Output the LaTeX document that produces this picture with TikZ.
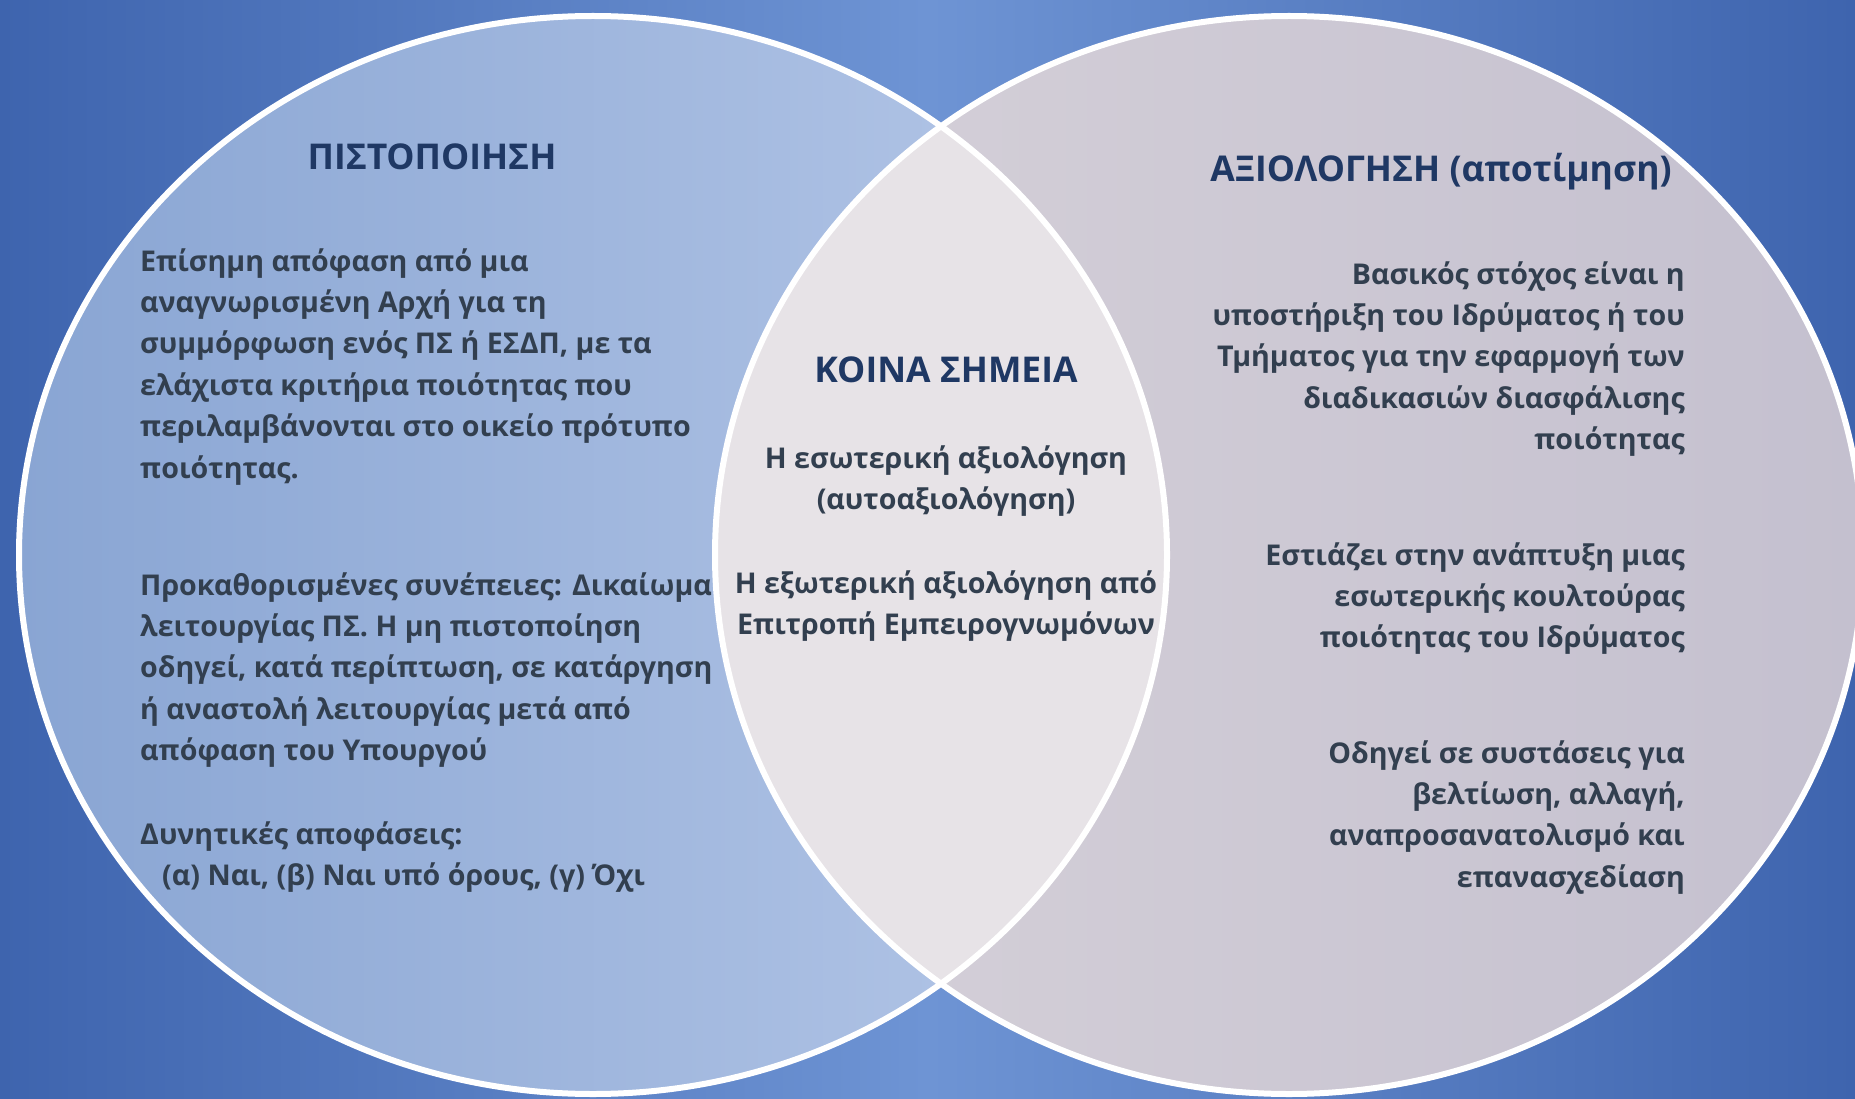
\documentclass[tikz,border=0pt]{standalone}
\usepackage{fontspec}
\setmainfont{Open Sans}
\definecolor{bgdark}{HTML}{3E64AE}
\definecolor{bglight}{HTML}{6E94D4}
\definecolor{leftA}{HTML}{89A5D3}
\definecolor{leftB}{HTML}{B6C8E8}
\definecolor{rightA}{HTML}{D6D1D9}
\definecolor{rightB}{HTML}{C4C0CF}
\definecolor{common}{HTML}{E7E3E7}
\definecolor{headtext}{HTML}{1F3864}
\definecolor{bodytext}{HTML}{323F4F}

\def\rx{574}
\def\ry{539}

\begin{document}
\begin{tikzpicture}[x=1pt, y=-1pt, every node/.style={inner sep=0, text=bodytext, font=\fontsize{28.6}{41.4}\selectfont\bfseries}, heading/.style={text=headtext, font=\fontsize{35.5}{40}\selectfont\bfseries}, ring/.style={draw=white, line width=6pt}]
		\useasboundingbox (0,0) rectangle (1855,1099);
		\shade[left color=bgdark, right color=bgdark, middle color=bglight] (0,0) rectangle (1855,1099);
		
		\coordinate (CL) at (593,555);
		\coordinate (CR) at (1289,555);
		
		\shade[left color=leftA, right color=leftB] (CL) ellipse [x radius=\rx, y radius=\ry];
		\shade[left color=rightA, right color=rightB] (CR) ellipse [x radius=\rx, y radius=\ry];
		\begin{scope}
			\clip (CL) ellipse [x radius=\rx, y radius=\ry];
			\fill[common] (CR) ellipse [x radius=\rx, y radius=\ry];
		\end{scope}
		\draw[ring] (CL) ellipse [x radius=\rx, y radius=\ry];
		\draw[ring] (CR) ellipse [x radius=\rx, y radius=\ry];
		
		\node (A) at (432,170) [heading, anchor=base] {ΠΙΣΤΟΠΟΙΗΣΗ};
		\node (B) at (946,382) [heading, anchor=base] {ΚΟΙΝΑ ΣΗΜΕΙΑ};
		\node (C) at (1441,182) [heading, anchor=base] {ΑΞΙΟΛΟΓΗΣΗ (αποτίμηση)};
		
		\node (D) at (140,242) [anchor=north west, align=left] {\strut Επίσημη απόφαση από μια\\αναγνωρισμένη Αρχή για τη\\συμμόρφωση ενός ΠΣ ή ΕΣΔΠ, με τα\\ελάχιστα κριτήρια ποιότητας που\\περιλαμβάνονται στο οικείο πρότυπο\\ποιότητας.};
		\node (E) at (140,566) [anchor=north west, align=left] {\strut Προκαθορισμένες συνέπειες: Δικαίωμα\\λειτουργίας ΠΣ. Η μη πιστοποίηση\\οδηγεί, κατά περίπτωση, σε κατάργηση\\ή αναστολή λειτουργίας μετά από\\απόφαση του Υπουργού};
		\node (F) at (140,815) [anchor=north west, align=left] {\strut Δυνητικές αποφάσεις:\\\hspace*{22pt}(α) Ναι, (β) Ναι υπό όρους, (γ) Όχι};
		
		\node (G) at (946,439) [anchor=north, align=center] {\strut Η εσωτερική αξιολόγηση\\(αυτοαξιολόγηση)};
		\node (H) at (946,564) [anchor=north, align=center] {\strut Η εξωτερική αξιολόγηση από\\Επιτροπή Εμπειρογνωμόνων};
		
		\node (I) at (1685,255) [anchor=north east, align=right] {\strut Βασικός στόχος είναι η\\υποστήριξη του Ιδρύματος ή του\\Τμήματος για την εφαρμογή των\\διαδικασιών διασφάλισης\\ποιότητας};
		\node (J) at (1685,536) [anchor=north east, align=right] {\strut Εστιάζει στην ανάπτυξη μιας\\εσωτερικής κουλτούρας\\ποιότητας του Ιδρύματος};
		\node (K) at (1685,734) [anchor=north east, align=right] {\strut Οδηγεί σε συστάσεις για\\βελτίωση, αλλαγή,\\αναπροσανατολισμό και\\επανασχεδίαση};
		
	\end{tikzpicture}
\end{document}
